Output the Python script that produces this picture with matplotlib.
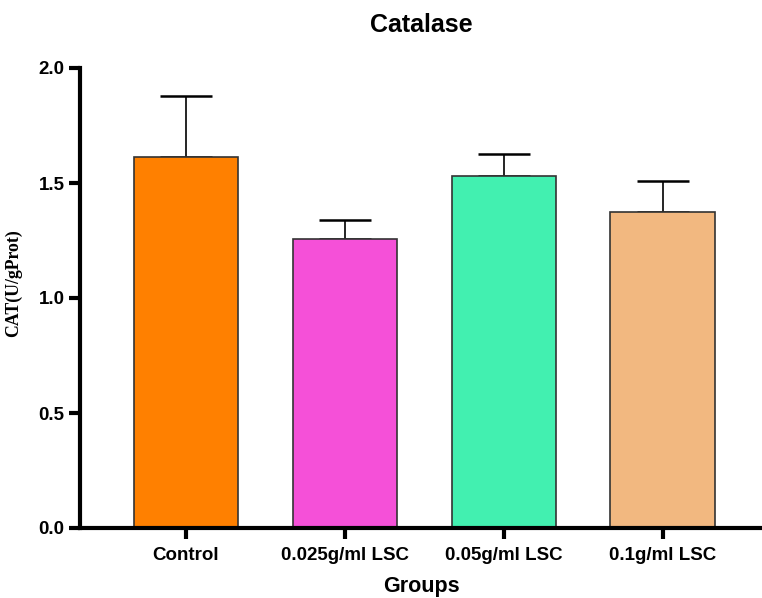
import matplotlib
matplotlib.use("Agg")
import matplotlib.pyplot as plt

groups = ["Control", "0.025g/ml LSC", "0.05g/ml LSC", "0.1g/ml LSC"]
means = [1.615, 1.258, 1.532, 1.372]
sems = [0.263, 0.083, 0.095, 0.138]
colors = ["#FF8000", "#F550D8", "#42F0B0", "#F2B880"]

plt.rcParams['font.family'] = ['Liberation Sans', 'DejaVu Sans']

fig = plt.figure(figsize=(7.62, 5.98), dpi=100)
ax = fig.add_axes([80/762, 1-528/598, 682/762, 460/598])

x = list(range(len(groups)))
ax.bar(x, means, width=0.66, color=colors, edgecolor="#333333", linewidth=1.2, zorder=2)
ax.errorbar(x, means, yerr=[[0]*len(sems), sems], fmt='none', ecolor='black',
            elinewidth=1.2, capsize=19, capthick=1.8, zorder=1)

ax.set_xlim(-0.667, 3.623)
ax.set_ylim(0, 2.0)
ax.set_yticks([0.0, 0.5, 1.0, 1.5, 2.0])
ax.set_yticklabels(["0.0", "0.5", "1.0", "1.5", "2.0"])
ax.set_xticks(x)
ax.set_xticklabels(groups)

for s in ["top", "right"]:
    ax.spines[s].set_visible(False)
for s in ["left", "bottom"]:
    ax.spines[s].set_linewidth(3)
ax.tick_params(axis='both', width=3, length=8, labelsize=13.5, pad=3)
ax.tick_params(axis='x', pad=6)
for lab in ax.get_xticklabels() + ax.get_yticklabels():
    lab.set_fontweight('bold')

ax.set_title("Catalase", fontsize=18, fontweight='bold', pad=26)
ax.set_xlabel("Groups", fontsize=15.5, fontweight='bold', labelpad=8.5)
ax.set_ylabel("CAT(U/gProt)", fontsize=12.8, fontweight='bold',
              family=['Liberation Serif', 'DejaVu Serif'])
ax.yaxis.set_label_coords(-0.085, 0.533)

fig.savefig("out.png", dpi=100)
